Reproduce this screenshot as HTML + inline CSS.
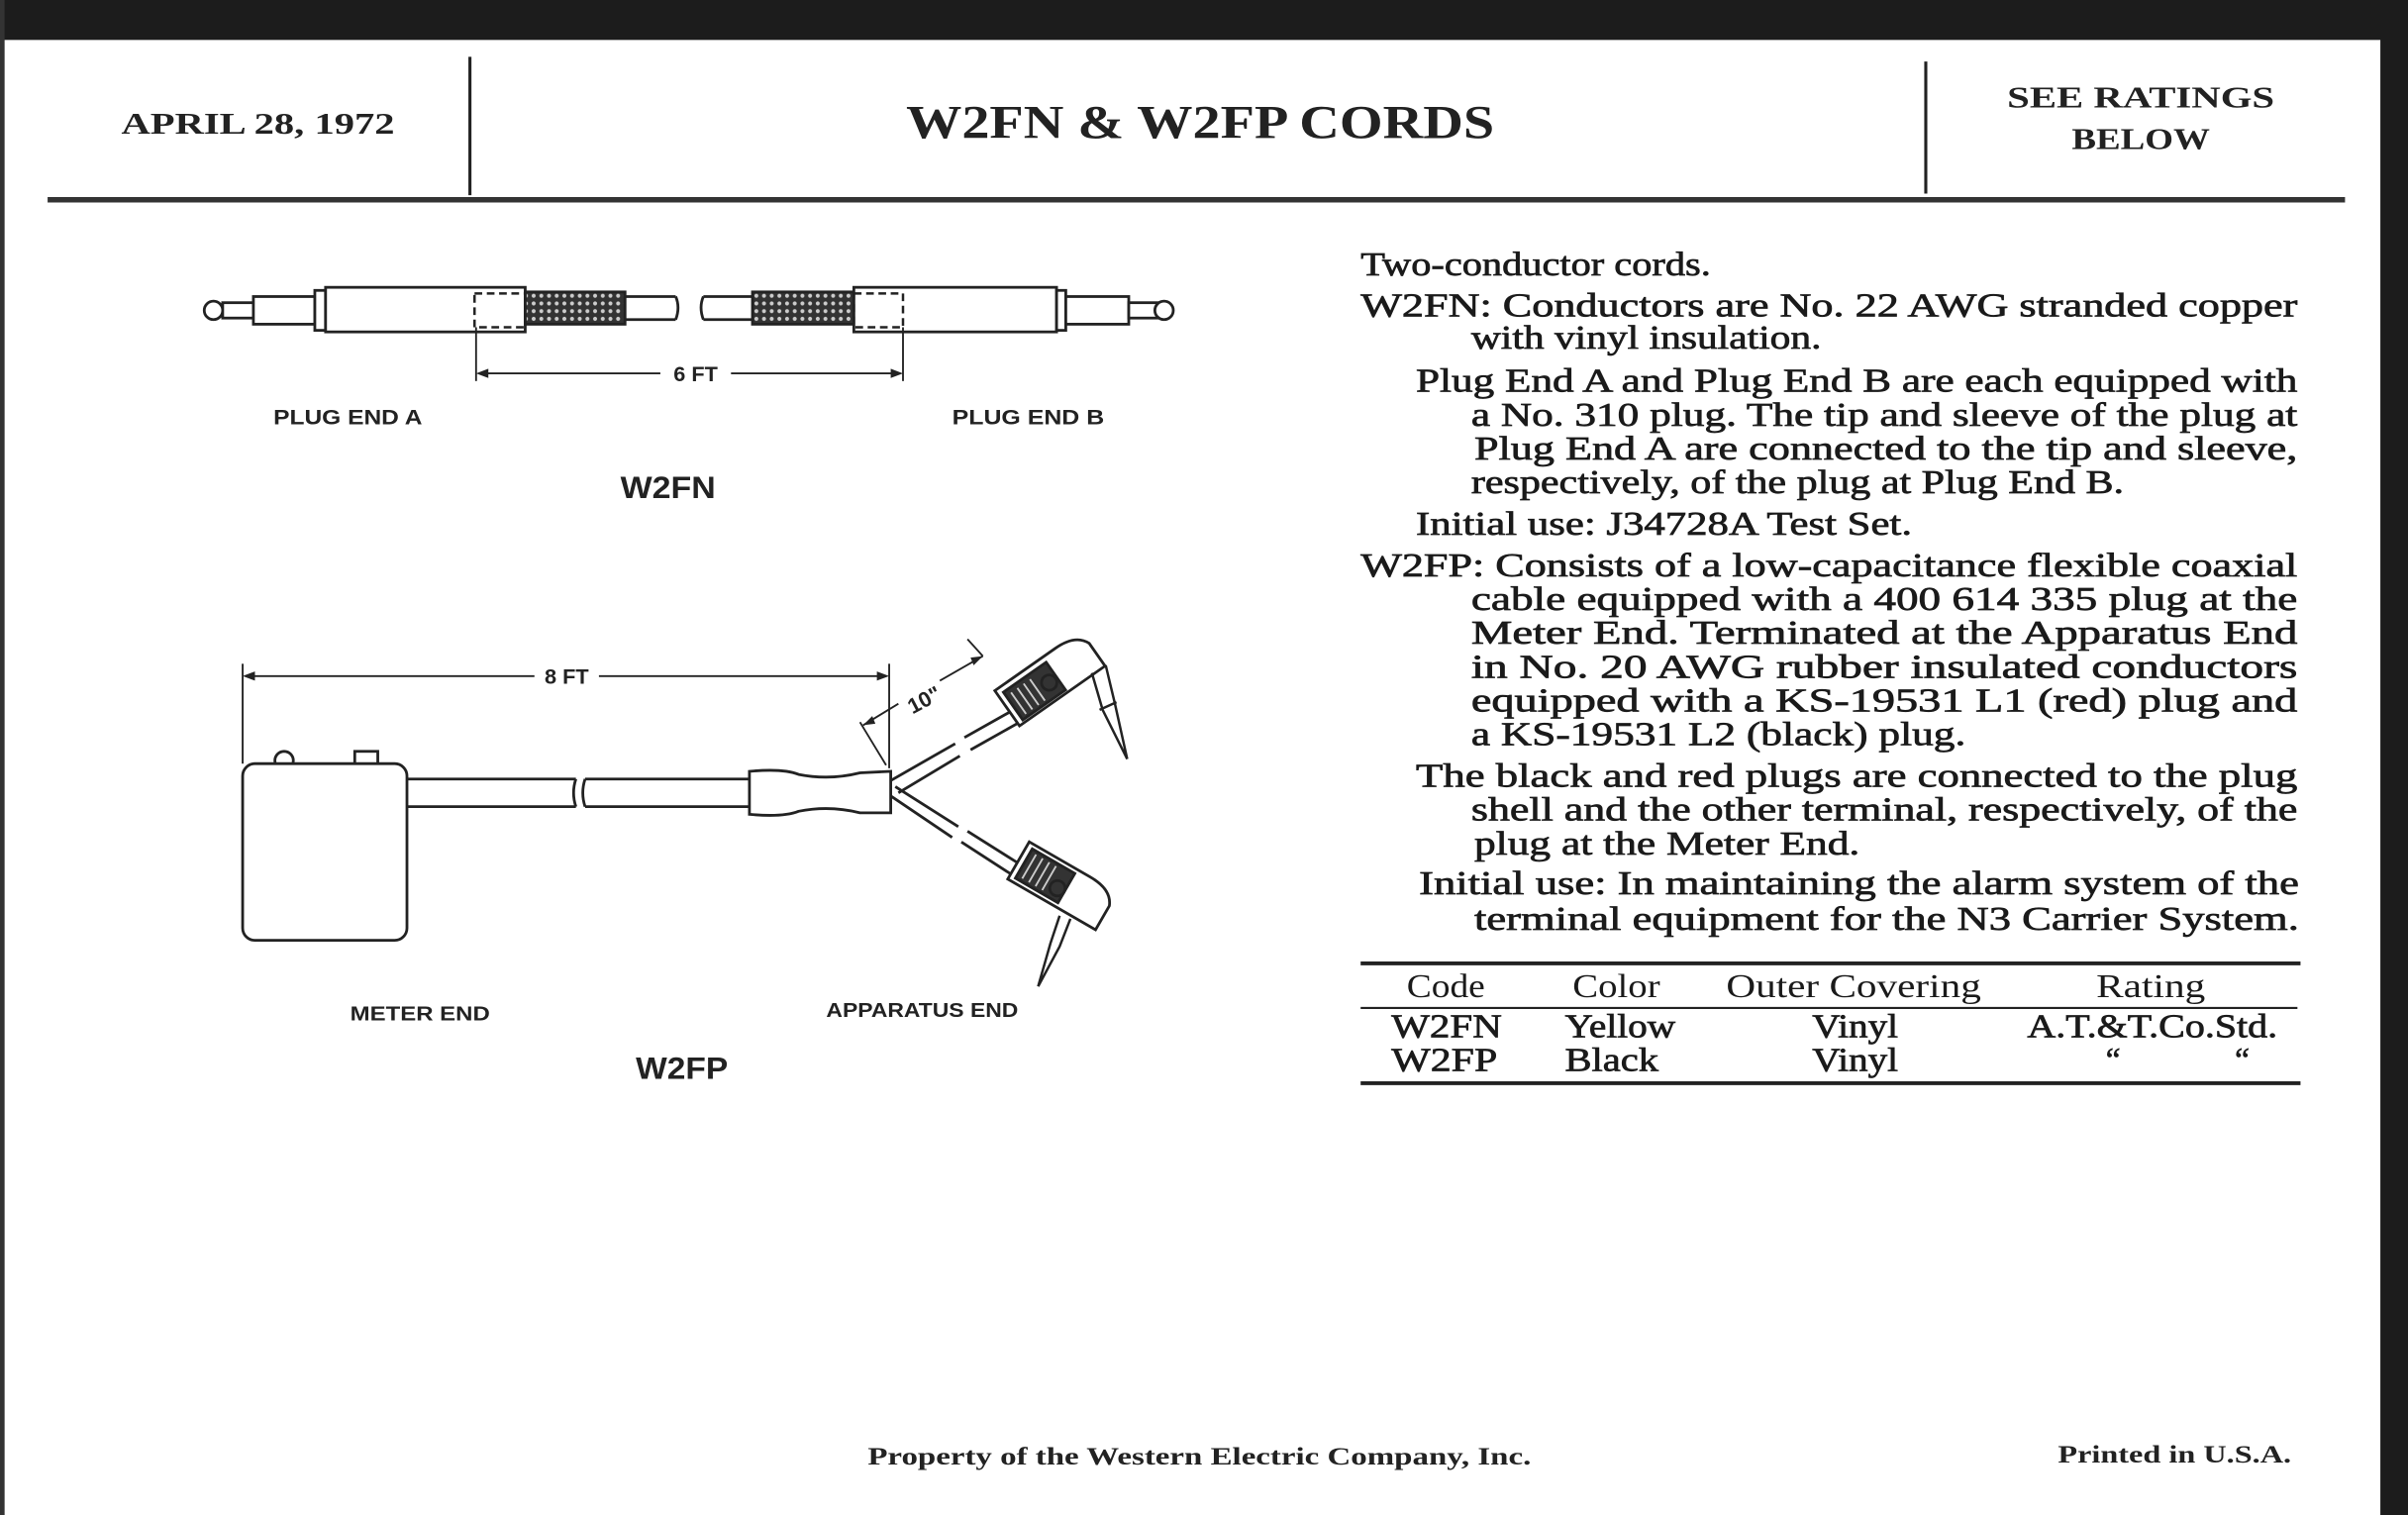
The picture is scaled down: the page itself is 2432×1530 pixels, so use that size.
<!DOCTYPE html>
<html><head><meta charset="utf-8"><style>
html,body{margin:0;padding:0;background:#fff;}
svg{display:block}
.s{font-family:"Liberation Serif",serif;font-weight:bold;fill:#222}
.b{font-family:"Liberation Serif",serif;fill:#1a1a1a;font-size:21.5px;stroke:#1a1a1a;stroke-width:0.45}
.n{font-family:"Liberation Serif",serif;fill:#1a1a1a;font-size:21.5px}
.l{font-family:"Liberation Sans",sans-serif;font-weight:bold;fill:#222}
</style></head><body>
<svg width="2432" height="1530" viewBox="0 0 1568 986" preserveAspectRatio="none" xmlns="http://www.w3.org/2000/svg">
<rect width="1568" height="986" fill="#fff"/>
<rect x="0" y="0" width="1568" height="26" fill="#1c1c1c"/>
<rect x="1550" y="0" width="18" height="986" fill="#1c1c1c"/>
<rect x="0" y="0" width="3" height="986" fill="#333"/>
<!-- header -->
<text class="s" x="79" y="87" font-size="20" textLength="178" lengthAdjust="spacingAndGlyphs">APRIL 28, 1972</text>
<line x1="306" y1="37" x2="306" y2="127" stroke="#222" stroke-width="2"/>
<text class="s" x="590" y="90" font-size="31" textLength="383" lengthAdjust="spacingAndGlyphs">W2FN &amp; W2FP CORDS</text>
<line x1="1254" y1="40" x2="1254" y2="126" stroke="#222" stroke-width="2"/>
<text class="s" x="1307" y="70" font-size="20" textLength="174" lengthAdjust="spacingAndGlyphs">SEE RATINGS</text>
<text class="s" x="1349" y="97" font-size="20" textLength="90" lengthAdjust="spacingAndGlyphs">BELOW</text>
<line x1="31" y1="130" x2="1527" y2="130" stroke="#333" stroke-width="3.5"/>
<!-- body text -->
<g class="b">
<text x="886" y="179" textLength="228" lengthAdjust="spacingAndGlyphs">Two-conductor cords.</text>
<text x="886" y="206" textLength="610" lengthAdjust="spacingAndGlyphs">W2FN: Conductors are No. 22 AWG stranded copper</text>
<text x="958" y="227" textLength="228" lengthAdjust="spacingAndGlyphs">with vinyl insulation.</text>
<text x="922" y="255" textLength="574" lengthAdjust="spacingAndGlyphs">Plug End A and Plug End B are each equipped with</text>
<text x="958" y="277" textLength="538" lengthAdjust="spacingAndGlyphs">a No. 310 plug. The tip and sleeve of the plug at</text>
<text x="960" y="299" textLength="536" lengthAdjust="spacingAndGlyphs">Plug End A are connected to the tip and sleeve,</text>
<text x="958" y="321" textLength="425" lengthAdjust="spacingAndGlyphs">respectively, of the plug at Plug End B.</text>
<text x="922" y="348" textLength="323" lengthAdjust="spacingAndGlyphs">Initial use: J34728A Test Set.</text>
<text x="886" y="375" textLength="610" lengthAdjust="spacingAndGlyphs">W2FP: Consists of a low-capacitance flexible coaxial</text>
<text x="958" y="397" textLength="538" lengthAdjust="spacingAndGlyphs">cable equipped with a 400 614 335  plug  at  the</text>
<text x="958" y="419" textLength="538" lengthAdjust="spacingAndGlyphs">Meter End. Terminated at the Apparatus End</text>
<text x="958" y="441" textLength="538" lengthAdjust="spacingAndGlyphs">in No. 20 AWG rubber insulated conductors</text>
<text x="958" y="463" textLength="538" lengthAdjust="spacingAndGlyphs">equipped with a KS-19531 L1 (red) plug and</text>
<text x="958" y="485" textLength="322" lengthAdjust="spacingAndGlyphs">a KS-19531 L2 (black) plug.</text>
<text x="922" y="512" textLength="574" lengthAdjust="spacingAndGlyphs">The black and red plugs are connected to the plug</text>
<text x="958" y="534" textLength="538" lengthAdjust="spacingAndGlyphs">shell and the other terminal, respectively, of the</text>
<text x="960" y="556" textLength="251" lengthAdjust="spacingAndGlyphs">plug at the Meter End.</text>
<text x="924" y="582" textLength="573" lengthAdjust="spacingAndGlyphs">Initial use: In maintaining the alarm system of the</text>
<text x="960" y="605" textLength="537" lengthAdjust="spacingAndGlyphs">terminal equipment for the N3 Carrier System.</text>
</g>
<!-- table -->
<line x1="886" y1="627" x2="1498" y2="627" stroke="#222" stroke-width="2.5"/>
<line x1="886" y1="656" x2="1496" y2="656" stroke="#222" stroke-width="1.3"/>
<line x1="886" y1="705" x2="1498" y2="705" stroke="#222" stroke-width="2.5"/>
<g class="n">
<text x="916" y="649" textLength="51" lengthAdjust="spacingAndGlyphs">Code</text>
<text x="1024" y="649" textLength="57" lengthAdjust="spacingAndGlyphs">Color</text>
<text x="1124" y="649" textLength="166" lengthAdjust="spacingAndGlyphs">Outer Covering</text>
<text x="1365" y="649" textLength="71" lengthAdjust="spacingAndGlyphs">Rating</text>
</g>
<g class="b">
<text x="906" y="675" textLength="72" lengthAdjust="spacingAndGlyphs">W2FN</text>
<text x="1019" y="675" textLength="72" lengthAdjust="spacingAndGlyphs">Yellow</text>
<text x="1180" y="675" textLength="56" lengthAdjust="spacingAndGlyphs">Vinyl</text>
<text x="1320" y="675" textLength="163" lengthAdjust="spacingAndGlyphs">A.T.&amp;T.Co.Std.</text>
<text x="906" y="697" textLength="69" lengthAdjust="spacingAndGlyphs">W2FP</text>
<text x="1019" y="697" textLength="61" lengthAdjust="spacingAndGlyphs">Black</text>
<text x="1180" y="697" textLength="56" lengthAdjust="spacingAndGlyphs">Vinyl</text>
<text x="1376" y="697" text-anchor="middle">“</text>
<text x="1460" y="697" text-anchor="middle">“</text>
</g>
<!-- footer -->
<text class="s" x="565" y="953" font-size="16" textLength="432" lengthAdjust="spacingAndGlyphs">Property of the Western Electric Company, Inc.</text>
<text class="s" x="1340" y="952" font-size="16" textLength="152" lengthAdjust="spacingAndGlyphs">Printed in U.S.A.</text>

<defs>
<pattern id="kn" width="5" height="5" patternUnits="userSpaceOnUse">
<rect width="5" height="5" fill="#333"/><circle cx="2.5" cy="2.5" r="1.3" fill="#ccc"/>
</pattern>
</defs>
<!-- W2FN drawing -->
<g stroke="#222" stroke-width="1.8" fill="#fff">
<circle cx="139" cy="202" r="6"/>
<rect x="145" y="197" width="20" height="10"/>
<rect x="165" y="193" width="40" height="18"/>
<rect x="205" y="189" width="7" height="26"/>
<rect x="212" y="187" width="130" height="29"/>
<rect x="342" y="190" width="65" height="21" fill="url(#kn)"/>
<path d="M407 193 H440 M407 208 H440 M440 193 q3 7 0 15" fill="none"/>
<path d="M458 193 q-3 7 0 15 M458 193 H490 M458 208 H490" fill="none"/>
<rect x="490" y="190" width="66" height="21" fill="url(#kn)"/>
<rect x="556" y="187" width="132" height="29"/>
<rect x="688" y="189" width="6" height="26"/>
<rect x="694" y="193" width="41" height="18"/>
<rect x="735" y="197" width="20" height="10"/>
<circle cx="758" cy="202" r="6"/>
</g>
<g stroke="#222" stroke-width="1.6" fill="none" stroke-dasharray="5,3">
<rect x="309" y="191" width="33" height="22"/>
<rect x="556" y="191" width="32" height="22"/>
</g>
<g stroke="#222" stroke-width="1.2">
<line x1="310" y1="213" x2="310" y2="248"/>
<line x1="588" y1="213" x2="588" y2="248"/>
<line x1="312" y1="243" x2="430" y2="243"/>
<line x1="476" y1="243" x2="586" y2="243"/>
</g>
<path d="M310 243 l8 -3 v6z M588 243 l-8 -3 v6z" fill="#222"/>
<text class="l" x="453" y="248" font-size="14" text-anchor="middle">6 FT</text>
<text class="l" x="178" y="276" font-size="14" textLength="97" lengthAdjust="spacingAndGlyphs">PLUG END A</text>
<text class="l" x="620" y="276" font-size="14" textLength="99" lengthAdjust="spacingAndGlyphs">PLUG END B</text>
<text class="l" x="404" y="324" font-size="20" textLength="62" lengthAdjust="spacingAndGlyphs">W2FN</text>

<!-- W2FP drawing -->
<g stroke="#222" stroke-width="1.2">
<line x1="158" y1="432" x2="158" y2="497"/>
<line x1="579" y1="432" x2="579" y2="500"/>
<line x1="160" y1="440" x2="348" y2="440"/>
<line x1="390" y1="440" x2="577" y2="440"/>
<line x1="577" y1="498" x2="560" y2="470"/>
<line x1="562" y1="472" x2="585" y2="458"/>
<line x1="612" y1="443" x2="640" y2="427"/>
<line x1="640" y1="427" x2="630" y2="416"/>
</g>
<path d="M158 440 l8 -3 v6z M579 440 l-8 -3 v6z M562 472 l6 -6 l2 5z M640 427 l-6 6 l-2 -5z" fill="#222"/>
<text class="l" x="369" y="445" font-size="14" text-anchor="middle">8 FT</text>
<text class="l" x="590" y="462" font-size="14" transform="rotate(-28 598 455)">10"</text>
<g stroke="#222" stroke-width="1.8" fill="#fff">
<circle cx="185" cy="495" r="6"/>
<rect x="231" y="489" width="15" height="9"/>
<rect x="158" y="497" width="107" height="115" rx="8"/>
<path d="M265 507 H375 M265 525 H375 M375 507 q-3 9 0 18 M381 507 q-3 9 0 18 M381 507 H488 M381 525 H488" fill="none"/>
<path d="M488 502 Q510 500 520 504 Q540 508 560 503 L580 502 L580 529 L560 529 Q540 524 520 528 Q510 532 488 530 Z"/>
<path d="M580 508 L622 484 M585 516 L625 492" fill="none"/>
<path d="M628 480 L660 462 M632 488 L664 470" fill="none"/>
<path d="M580 518 L620 545 M583 512 L624 538" fill="none"/>
<path d="M626 548 L660 570 M630 541 L665 563" fill="none"/>
</g>
<!-- upper plug -->
<g transform="translate(675,450) rotate(-35)" stroke="#222" stroke-width="1.8">
<path d="M-22 -16 H26 Q42 -16 46 -6 L46 12 H-22 Z" fill="#fff"/>
<rect x="-18" y="-12" width="34" height="22" fill="#333"/>
<g stroke="#ccc" stroke-width="1.2"><line x1="-14" y1="-9" x2="-14" y2="8"/><line x1="-9" y1="-9" x2="-9" y2="8"/><line x1="-4" y1="-9" x2="-4" y2="8"/><line x1="1" y1="-9" x2="1" y2="8"/></g>
<circle cx="10" cy="0" r="5" fill="#333"/>
</g>
<path d="M711 438 L718 462 L734 494 M720 433 L726 458 L734 494 M716 462 L727 457" stroke="#222" stroke-width="1.6" fill="none"/>
<!-- lower plug -->
<g transform="translate(684,572) rotate(30)" stroke="#222" stroke-width="1.8">
<path d="M-24 -14 H22 Q38 -14 42 -4 L42 14 H-24 Z" fill="#fff"/>
<rect x="-20" y="-11" width="32" height="22" fill="#333"/>
<g stroke="#ccc" stroke-width="1.2"><line x1="-16" y1="-9" x2="-16" y2="9"/><line x1="-11" y1="-9" x2="-11" y2="9"/><line x1="-6" y1="-9" x2="-6" y2="9"/><line x1="-1" y1="-9" x2="-1" y2="9"/></g>
<circle cx="7" cy="3" r="5" fill="#333"/>
</g>
<path d="M690 596 L684 614 L676 642 M697 598 L690 616 L676 642" stroke="#222" stroke-width="1.6" fill="none"/>
<text class="l" x="228" y="664" font-size="13" textLength="91" lengthAdjust="spacingAndGlyphs">METER END</text>
<text class="l" x="538" y="662" font-size="13" textLength="125" lengthAdjust="spacingAndGlyphs">APPARATUS END</text>
<text class="l" x="414" y="702" font-size="20" textLength="60" lengthAdjust="spacingAndGlyphs">W2FP</text>
</svg>
</body></html>
